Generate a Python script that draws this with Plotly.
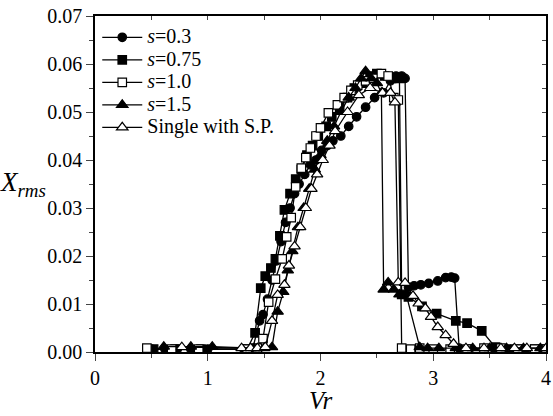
import plotly.graph_objects as go

# s=0.3 (filled circles)
vr_s03 = [0.50, 0.62, 0.73, 0.85, 1.00, 1.32, 1.40, 1.46, 1.49, 1.53, 1.57, 1.61, 1.65, 1.69,
          1.73, 1.77, 1.81, 1.86, 1.91, 1.96, 2.01, 2.06, 2.11, 2.18, 2.25, 2.32, 2.40, 2.48,
          2.56, 2.62, 2.67, 2.72, 2.75, 2.78, 2.83, 2.89, 2.96, 3.04, 3.11, 3.16, 3.19, 3.23,
          3.32, 3.45, 3.58, 3.70, 3.82, 3.95]
x_s03 = [0.0006, 0.0006, 0.0006, 0.0006, 0.0006, 0.0006, 0.0008, 0.0065, 0.0078, 0.011, 0.015,
         0.019, 0.023, 0.027, 0.030, 0.033, 0.035, 0.037, 0.039, 0.040, 0.042, 0.043, 0.044,
         0.045, 0.047, 0.049, 0.051, 0.053, 0.054, 0.0565, 0.0575, 0.0575, 0.057, 0.0135,
         0.0138, 0.014, 0.0143, 0.0148, 0.0155, 0.0156, 0.0154, 0.0008, 0.0006, 0.0006,
         0.0006, 0.0006, 0.0006, 0.0006]

# s=0.75 (filled squares)
vr_s075 = [0.52, 0.71, 0.94, 1.35, 1.42, 1.47, 1.51, 1.56, 1.60, 1.64, 1.68, 1.73, 1.78, 1.83,
           1.88, 1.93, 1.98, 2.05, 2.10, 2.17, 2.24, 2.30, 2.37, 2.44, 2.50, 2.57, 2.63, 2.70,
           2.72, 2.78, 2.90, 3.03, 3.20, 3.30, 3.43, 3.55, 3.65, 3.78, 3.90, 4.00]
x_s075 = [0.0006, 0.0006, 0.0006, 0.0006, 0.004, 0.0133, 0.0158, 0.0175, 0.0194, 0.0242, 0.0296,
          0.033, 0.036, 0.038, 0.041, 0.043, 0.045, 0.047, 0.049, 0.051, 0.053, 0.055, 0.056,
          0.0575, 0.058, 0.0575, 0.057, 0.057, 0.012, 0.0115, 0.0095, 0.008, 0.0065, 0.006,
          0.0044, 0.001, 0.0006, 0.0006, 0.0006, 0.0006]

# s=1.0 (open squares)
vr_s10 = [0.46, 0.68, 0.92, 1.35, 1.44, 1.49, 1.54, 1.60, 1.66, 1.70, 1.74, 1.78, 1.83, 1.87,
          1.91, 1.96, 2.00, 2.07, 2.15, 2.21, 2.27, 2.33, 2.40, 2.47, 2.54, 2.60, 2.65, 2.69,
          2.72, 2.80, 2.88, 3.00, 3.15, 3.30, 3.45, 3.60, 3.75, 3.90, 4.00]
x_s10 = [0.0008, 0.0006, 0.0006, 0.0006, 0.0008, 0.0028, 0.0104, 0.0152, 0.0194, 0.024, 0.028,
         0.0344, 0.0383, 0.0405, 0.0425, 0.045, 0.0467, 0.0498, 0.0515, 0.053, 0.0545, 0.0556,
         0.0565, 0.057, 0.058, 0.0575, 0.053, 0.0525, 0.0008, 0.0006, 0.0008, 0.0006, 0.0006,
         0.0006, 0.0008, 0.0008, 0.0006, 0.0006, 0.0006]

# s=1.5 (filled triangles)
vr_s15 = [0.61, 0.85, 1.04, 1.41, 1.50, 1.57, 1.62, 1.67, 1.71, 1.75, 1.80, 1.85, 1.90, 1.95,
          2.00, 2.06, 2.12, 2.18, 2.25, 2.31, 2.36, 2.40, 2.45, 2.50, 2.54, 2.56, 2.60, 2.65,
          2.70, 2.76, 2.88, 2.95, 3.05, 3.20, 3.35, 3.50, 3.65, 3.80, 3.95]
x_s15 = [0.0011, 0.0011, 0.0011, 0.0008, 0.0008, 0.001, 0.0084, 0.0125, 0.017, 0.021, 0.026,
         0.030, 0.034, 0.038, 0.041, 0.044, 0.047, 0.050, 0.053, 0.055, 0.057, 0.0585, 0.057,
         0.056, 0.054, 0.013, 0.0145, 0.013, 0.012, 0.012, 0.001, 0.0008, 0.0008, 0.0008,
         0.0008, 0.0008, 0.0008, 0.0008, 0.0008]

# Single with S.P. (open triangles)
vr_sp = [0.77, 1.30, 1.38, 1.44, 1.51, 1.57, 1.62, 1.68, 1.72, 1.77, 1.82, 1.87, 1.92, 1.97,
         2.02, 2.08, 2.13, 2.24, 2.34, 2.44, 2.55, 2.62, 2.66, 2.69, 2.75, 2.82, 2.87, 2.93,
         2.98, 3.04, 3.11, 3.18, 3.29, 3.45, 3.60, 3.72, 3.83, 4.00]
x_sp = [0.001, 0.0008, 0.0008, 0.0008, 0.001, 0.0065, 0.0119, 0.014, 0.018, 0.022, 0.026,
        0.030, 0.034, 0.037, 0.040, 0.043, 0.046, 0.050, 0.0535, 0.055, 0.054, 0.054, 0.052,
        0.0145, 0.0144, 0.0117, 0.0101, 0.0091, 0.0073, 0.0052, 0.0035, 0.0017, 0.0008,
        0.0008, 0.0008, 0.0008, 0.0008, 0.0008]

series = [
    ("<i>s</i>=0.3", vr_s03, x_s03, "circle"),
    ("<i>s</i>=0.75", vr_s075, x_s075, "square"),
    ("<i>s</i>=1.0", vr_s10, x_s10, "square-open"),
    ("<i>s</i>=1.5", vr_s15, x_s15, "triangle-up"),
    ("Single with S.P.", vr_sp, x_sp, "triangle-up-open"),
]

fig = go.Figure()
for name, xs, ys, sym in series:
    is_open = sym.endswith("open")
    fig.add_trace(go.Scatter(
        x=xs, y=ys, mode="lines+markers",
        # bigger text inside a small legend font keeps the rows tight
        name='<span style="font-size:20px">' + name + "</span>",
        line=dict(color="black", width=1.3),
        marker=dict(symbol=sym.replace("-open", ""), size=10 if "triangle" in sym else 8.5,
                    color="white" if is_open else "black",
                    line=dict(color="black", width=1.2)),
    ))

# empty trace so the top / right frame axes get drawn
fig.add_trace(go.Scatter(x=[], y=[], xaxis="x2", yaxis="y2", showlegend=False))

serif = "'Liberation Serif', serif"
fig.update_layout(
    width=553, height=416,
    margin=dict(l=95, r=2, t=16, b=64),
    plot_bgcolor="white", paper_bgcolor="white",
    font=dict(family=serif, size=18, color="black"),
    showlegend=True,
    legend=dict(x=0.005, y=0.985, xanchor="left", yanchor="top",
                bgcolor="rgba(0,0,0,0)", font=dict(family=serif, size=15),
                tracegroupgap=0, itemwidth=40),
    xaxis=dict(range=[0, 4], dtick=1, ticks="outside", ticklen=7, tickwidth=1.3,
               minor=dict(dtick=0.5, ticks="outside", ticklen=4, tickwidth=1.3),
               showline=True, linewidth=1.5, linecolor="black", showgrid=False,
               zeroline=False, tickfont=dict(family=serif, size=20),
               ticklabeloverflow="allow"),
    yaxis=dict(range=[0, 0.07], dtick=0.01, tickformat=".2f", ticks="outside", ticklen=7,
               tickwidth=1.3,
               minor=dict(dtick=0.005, ticks="outside", ticklen=4, tickwidth=1.3),
               showline=True, linewidth=1.5, linecolor="black", showgrid=False,
               zeroline=False, tickfont=dict(family=serif, size=20)),
    xaxis2=dict(range=[0, 4], overlaying="x", side="top", dtick=0.5, ticks="inside",
                ticklen=4, tickwidth=1.3, showticklabels=False, showline=True,
                linewidth=1.5, linecolor="black", showgrid=False, zeroline=False),
    yaxis2=dict(range=[0, 0.07], overlaying="y", side="right", dtick=0.005, ticks="inside",
                ticklen=4, tickwidth=1.3, showticklabels=False, showline=True,
                linewidth=1.5, linecolor="black", showgrid=False, zeroline=False),
    annotations=[
        dict(text="<i>Vr</i>", xref="paper", yref="paper", x=0.5, y=-0.097,
             xanchor="center", yanchor="top", showarrow=False,
             font=dict(family=serif, size=25)),
        dict(text="<i>X<sub>rms</sub></i>", xref="paper", yref="paper", x=-0.105, y=0.5,
             xanchor="right", yanchor="middle", showarrow=False,
             font=dict(family=serif, size=27)),
    ],
)

# the page body has a default 8px margin; drop it so the figure fills the window
fig.write_html("out.html", config={"displayModeBar": False},
               post_script="document.body.style.margin='0';")
